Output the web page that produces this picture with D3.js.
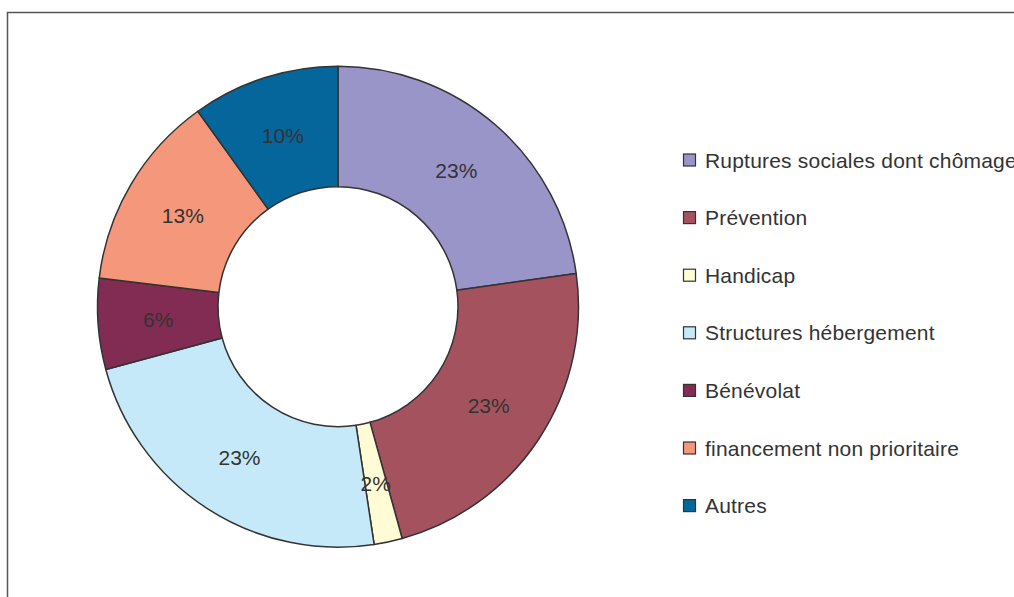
<!DOCTYPE html>
<html>
<head>
<meta charset="utf-8">
<script src="https://cdn.jsdelivr.net/npm/d3@7"></script>
<style>
  html, body { margin: 0; padding: 0; background: #fff; }
  svg { display: block; }
</style>
</head>
<body>
<div id="chart-container"></div>
<script>
// Répartition par catégorie (anneau)
const categories = ["Ruptures sociales dont chômage", "Prévention", "Handicap",
  "Structures hébergement", "Bénévolat", "financement non prioritaire", "Autres"];
const values = [22.8, 22.9, 1.9, 23.2, 6.1, 13.2, 9.9];
const colors = ["#9a95c8", "#a5525f", "#fffcd5", "#c6e9f9", "#822c54", "#f4977a", "#04669b"];

const width = 1014, height = 597;
const cx = 338, cy = 306.7, rOuter = 240.5, rInner = 120;

const svg = d3.select("#chart-container")
  .append("svg")
  .attr("width", width)
  .attr("height", height);

// cadre
svg.append("rect")
  .attr("x", 7.5).attr("y", 12.5)
  .attr("width", width + 20).attr("height", height + 20)
  .attr("fill", "none")
  .attr("stroke", "#555")
  .attr("stroke-width", 1.5);

const data = categories.map((c, i) => ({ cat: c, value: values[i], color: colors[i] }));

const pie = d3.pie().sort(null).value(d => d.value);
const arc = d3.arc().innerRadius(rInner).outerRadius(rOuter);
const total = d3.sum(values);

const g = svg.append("g").attr("transform", `translate(${cx},${cy})`);

const arcs = pie(data);

g.selectAll("path.slice")
  .data(arcs)
  .join("path")
    .attr("class", "slice")
    .attr("d", arc)
    .attr("fill", d => d.data.color)
    .attr("stroke", "#333")
    .attr("stroke-width", 1.5)
    .attr("stroke-linejoin", "round");

g.selectAll("text.pct")
  .data(arcs)
  .join("text")
    .attr("class", "pct")
    .attr("transform", d => `translate(${arc.centroid(d)})`)
    .attr("text-anchor", "middle")
    .attr("dy", "0.36em")
    .style("font-family", "'Liberation Sans', Arial, sans-serif")
    .style("font-size", "21px")
    .style("fill", "#333")
    .text(d => `${Math.round(d.data.value / total * 100)}%`);

// Légende
const legend = svg.append("g").attr("transform", "translate(683,160)");
const legendItem = legend.selectAll(".legend-item")
  .data(data)
  .join("g")
    .attr("class", "legend-item")
    .attr("transform", (d, i) => `translate(0,${i * 57.6})`);

legendItem.append("rect")
  .attr("x", 0.5).attr("y", -6)
  .attr("width", 12).attr("height", 12)
  .attr("fill", d => d.color)
  .attr("stroke", "#333")
  .attr("stroke-width", 1.2);

legendItem.append("text")
  .attr("x", 22)
  .attr("y", 0)
  .attr("dy", "0.36em")
  .style("font-family", "'Liberation Sans', Arial, sans-serif")
  .style("font-size", "21px")
  .style("letter-spacing", "0.2px")
  .style("fill", "#333")
  .text(d => d.cat);
</script>
</body>
</html>
